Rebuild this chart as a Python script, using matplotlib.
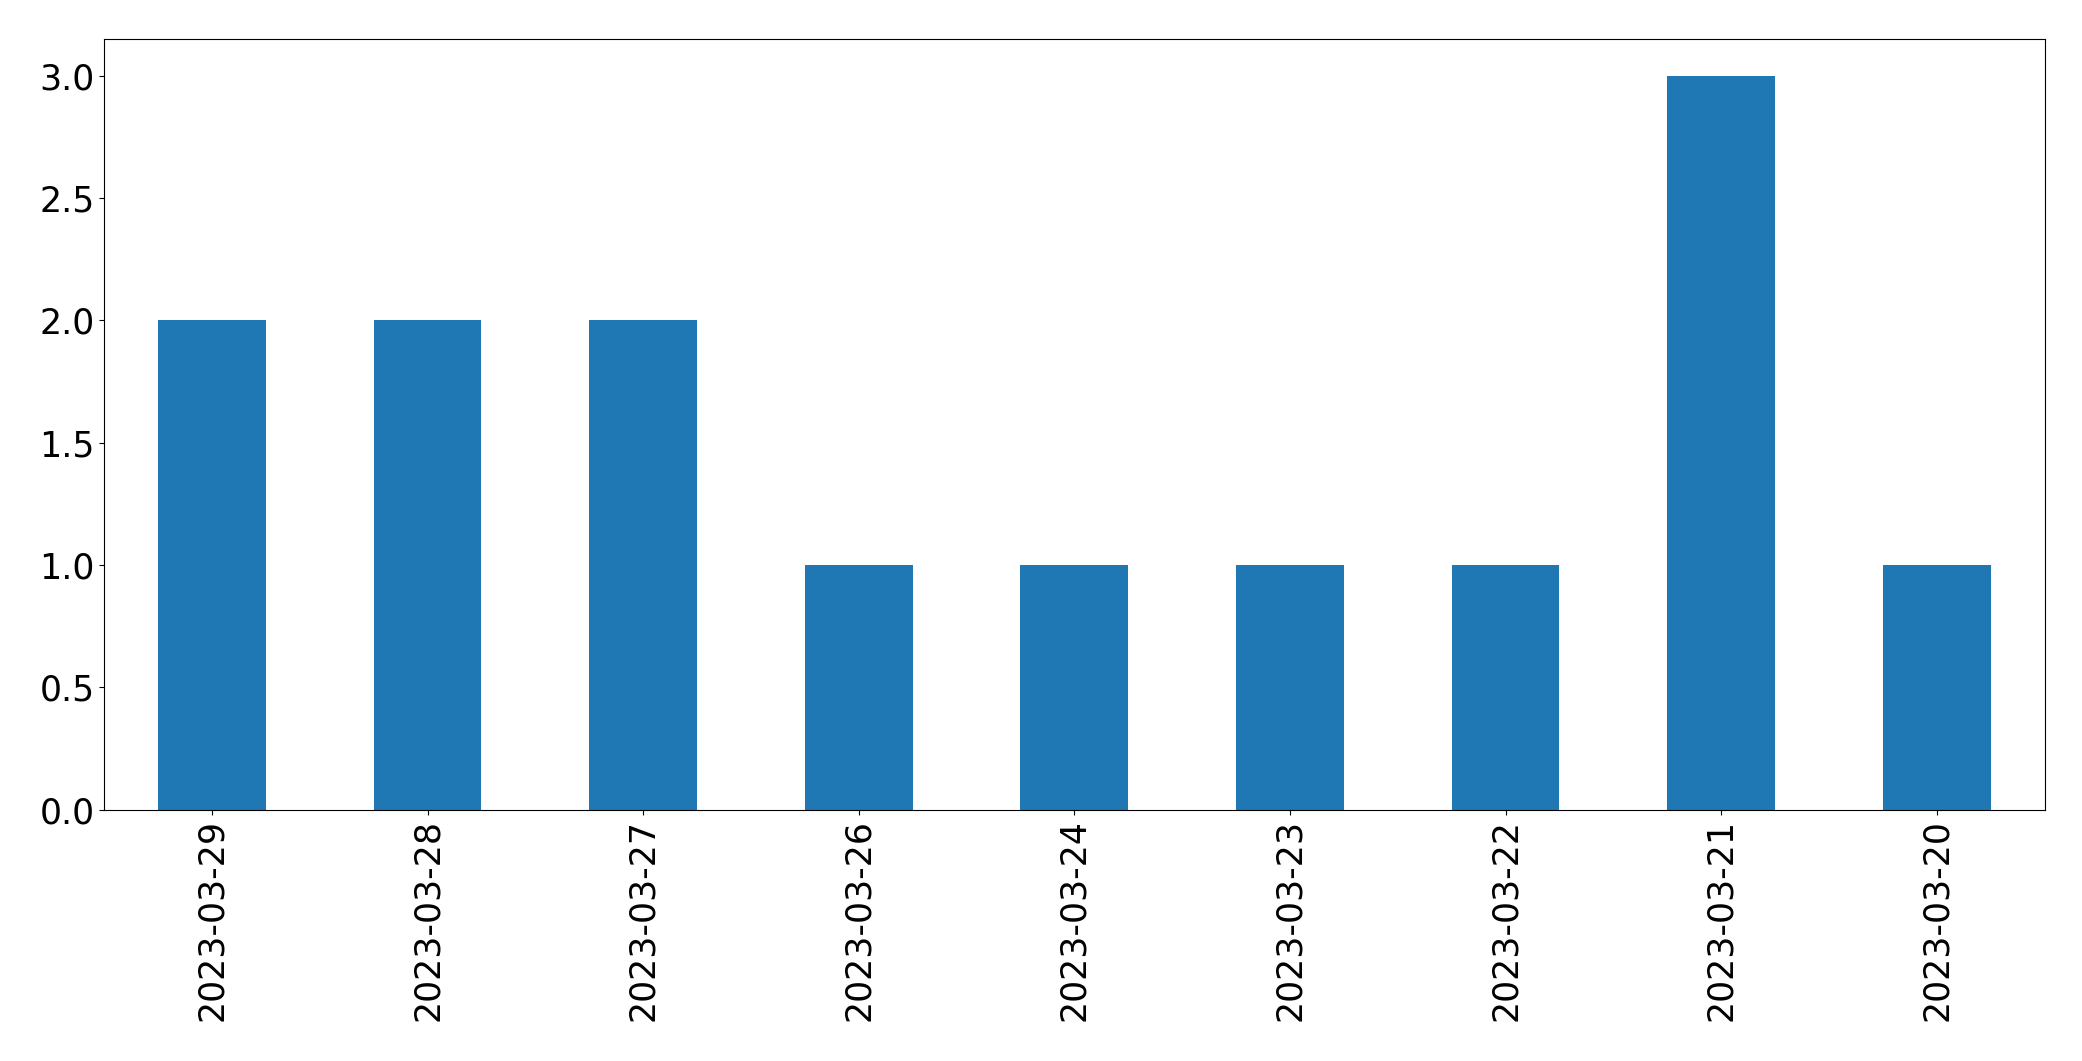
import matplotlib
matplotlib.use("Agg")
import matplotlib.pyplot as plt
import pandas as pd

dates = ["2023-03-29", "2023-03-28", "2023-03-27", "2023-03-26", "2023-03-24",
         "2023-03-23", "2023-03-22", "2023-03-21", "2023-03-20"]
counts = [2, 2, 2, 1, 1, 1, 1, 3, 1]

s = pd.Series(counts, index=dates)

fig, ax = plt.subplots(figsize=(20.82, 10.61), dpi=100)
s.plot(kind="bar", ax=ax, color="#1f77b4")
ax.tick_params(axis="both", labelsize=25)
fig.subplots_adjust(left=0.05, right=0.982, top=0.963, bottom=0.237)
plt.savefig("out.png", dpi=100)
